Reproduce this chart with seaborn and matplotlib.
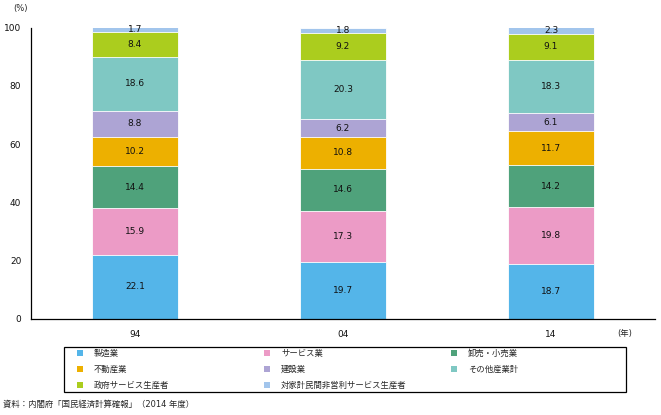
import numpy as np
import pandas as pd
import matplotlib
matplotlib.use("Agg")
import matplotlib.pyplot as plt
from matplotlib.patches import Patch, Rectangle
import seaborn as sns

years = ["94", "04", "14"]
industries = ["製造業", "サービス業", "卸売・小売業", "不動産業", "建設業",
              "その他産業計", "政府サービス生産者", "対家計民間非営利サービス生産者"]
manufacturing = [22.1, 19.7, 18.7]
services = [15.9, 17.3, 19.8]
wholesale_retail = [14.4, 14.6, 14.2]
real_estate = [10.2, 10.8, 11.7]
construction = [8.8, 6.2, 6.1]
other_industries = [18.6, 20.3, 18.3]
government = [8.4, 9.2, 9.1]
nonprofit = [1.7, 1.8, 2.3]
colors = ["#54B5E9", "#EC9BC6", "#4FA27B", "#EDB000", "#ADA4D4",
          "#7FC8C3", "#ABCD1E", "#A2C5EC"]

series = [manufacturing, services, wholesale_retail, real_estate,
          construction, other_industries, government, nonprofit]

sns.set_style("white")
plt.rcParams["font.family"] = ["DejaVu Sans", "Noto Sans CJK JP"]

rows = []
for name, vals in zip(industries, series):
    for y, v in zip(years, vals):
        rows.append({"year": y, "industry": name, "value": v})
df = pd.DataFrame(rows)
df["cum"] = df.groupby("year")["value"].cumsum()

fig = plt.figure(figsize=(6.61, 4.15), dpi=100)
ax = fig.add_axes([31 / 661, 1 - 319 / 415, (655 - 31) / 661, (319 - 27.5) / 415])

for name, col in reversed(list(zip(industries, colors))):
    sub = df[df["industry"] == name]
    sns.barplot(data=sub, x="year", y="cum", order=years, color=col,
                width=0.41, edgecolor="white", linewidth=0.6, ax=ax,
                saturation=1, errorbar=None)

for _, r in df.iterrows():
    xi = years.index(r["year"])
    ax.text(xi, r["cum"] - r["value"] / 2, f"{r['value']:.1f}",
            ha="center", va="center", fontsize=6.5, color="#111111")

ax.set_xlim(-0.5, 2.5)
ax.set_ylim(0, 100)
ax.set_yticks([0, 20, 40, 60, 80, 100])
ax.set_xlabel("")
ax.set_ylabel("")
for s in ["top", "right"]:
    ax.spines[s].set_visible(False)
for s in ["left", "bottom"]:
    ax.spines[s].set_linewidth(0.9)
    ax.spines[s].set_color("black")
ax.tick_params(axis="y", direction="out", length=2, width=0.8, pad=5, labelsize=6.5,
               labelcolor="#111111")
ax.tick_params(axis="x", which="major", length=0, pad=8, labelsize=6.5,
               labelcolor="#111111")
ax.set_xticks([0.5, 1.5, 2.5], minor=True)
ax.tick_params(axis="x", which="minor", direction="in", length=3, width=0.8)

fig.text(20 / 661, 1 - 9 / 415, "(%)", ha="center", va="center", fontsize=6)
fig.text(625 / 661, 1 - 333 / 415, "(年)", ha="center", va="center", fontsize=6)
fig.text(3 / 661, 1 - 404 / 415, "資料：内閣府「国民経済計算確報」（2014 年度）",
         ha="left", va="center", fontsize=6)

# legend frame
fig.add_artist(Rectangle((64 / 661, 1 - 392 / 415), (626 - 64) / 661, (392 - 347) / 415,
                         transform=fig.transFigure, fill=False, edgecolor="black",
                         linewidth=0.9))
col_x = [77, 264, 451]
for c in range(3):
    idx = list(range(c, len(industries), 3))
    handles = [Patch(facecolor=colors[i], edgecolor="none") for i in idx]
    labels = [industries[i] for i in idx]
    fig.legend(handles, labels, loc="upper left",
               bbox_to_anchor=(col_x[c] / 661, 1 - 348.5 / 415),
               frameon=False, fontsize=6, handlelength=0.75, handleheight=0.75,
               handletextpad=1.3, labelspacing=0.85, borderpad=0, borderaxespad=0)

fig.savefig("out.png", dpi=100)
